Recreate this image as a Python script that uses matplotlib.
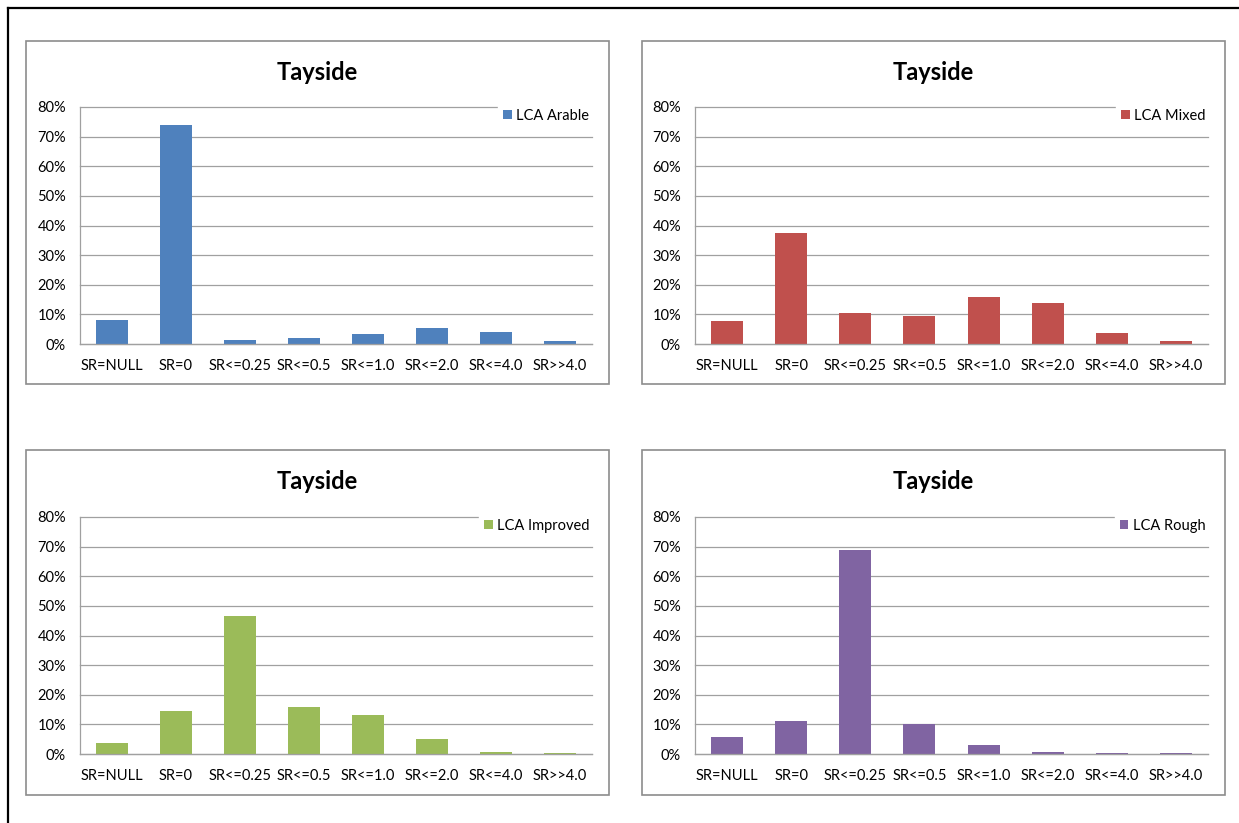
import numpy as np
import matplotlib
matplotlib.use("Agg")
import matplotlib.pyplot as plt
from matplotlib.patches import Rectangle
from matplotlib.lines import Line2D
from matplotlib.ticker import PercentFormatter

plt.rcParams["font.family"] = ["Lato", "DejaVu Sans"]

categories = ["SR=NULL", "SR=0", "SR<=0.25", "SR<=0.5", "SR<=1.0", "SR<=2.0", "SR<=4.0", "SR>>4.0"]
region = "Tayside"

arable = [8.0, 74.0, 1.5, 2.0, 3.5, 5.5, 4.2, 1.0]
mixed = [7.8, 37.5, 10.6, 9.3, 15.8, 13.7, 3.6, 1.0]
improved = [3.6, 14.5, 46.5, 16.0, 13.2, 5.0, 0.6, 0.3]
rough = [5.7, 11.3, 69.0, 10.0, 2.9, 0.6, 0.3, 0.3]

series_names = ["LCA Arable", "LCA Mixed", "LCA Improved", "LCA Rough"]
colors = ["#4F81BD", "#C0504D", "#9BBB59", "#8064A2"]

W, H = 1239, 823
fig = plt.figure(figsize=(W / 100, H / 100), dpi=100)
fig.patch.set_facecolor("white")


def fx(px):
    return px / W


def fy(py):
    return 1 - py / H


# outer frame (cut at right and bottom)
fig.add_artist(Line2D([fx(8), 1.0], [fy(8), fy(8)], color="black", lw=1.6))
fig.add_artist(Line2D([fx(8), fx(8)], [fy(8), 0.0], color="black", lw=1.6))

# (box left, box top, box right, box bottom, plot left, plot top, plot right, plot bottom)
panels = [
    (26, 41, 609, 384, 80, 107, 592, 344),
    (642, 41, 1225, 384, 695, 107, 1208, 344),
    (26, 450, 609, 795, 80, 517, 592, 754),
    (642, 450, 1225, 795, 695, 517, 1208, 754),
]
data = [arable, mixed, improved, rough]

for (bl, bt, br, bb, pl, pt, pr, pb), vals, name, col in zip(panels, data, series_names, colors):
    fig.add_artist(Rectangle((fx(bl), fy(bb)), fx(br - bl), (bb - bt) / H,
                             fill=False, edgecolor="#8C8C8C", lw=1.2))
    fig.text(fx((bl + br) / 2), fy(bt + 31), region, ha="center", va="center",
             fontsize=17, fontweight="bold")

    ax = fig.add_axes([fx(pl), fy(pb), fx(pr - pl), (pb - pt) / H])
    x = np.arange(len(categories))
    ax.bar(x, vals, width=0.5, color=col, label=name, zorder=2)
    ax.set_xlim(-0.5, len(categories) - 0.5)
    ax.set_ylim(0, 80)
    ax.set_yticks(np.arange(0, 81, 10))
    ax.yaxis.set_major_formatter(PercentFormatter(decimals=0))
    ax.set_xticks(x)
    ax.set_xticklabels(categories)
    ax.grid(axis="y", color="#A0A0A0", lw=0.9, zorder=0, clip_on=False)
    ax.set_axisbelow(True)
    for s in ["top", "right"]:
        ax.spines[s].set_visible(False)
    for s in ["left", "bottom"]:
        ax.spines[s].set_color("#A0A0A0")
        ax.spines[s].set_linewidth(0.9)
    ax.tick_params(axis="y", length=0, labelsize=10.5, pad=10)
    ax.tick_params(axis="x", length=0, labelsize=10.5, pad=11)
    leg = ax.legend(loc="upper right", bbox_to_anchor=(1.005, 1.015), frameon=True,
                    framealpha=1, edgecolor="white", fancybox=False, fontsize=10.5,
                    handlelength=0.6, handleheight=0.6, handletextpad=0.3,
                    borderpad=0.35, borderaxespad=0)
    leg.set_zorder(5)

fig.savefig("out.png", dpi=100, facecolor="white")
